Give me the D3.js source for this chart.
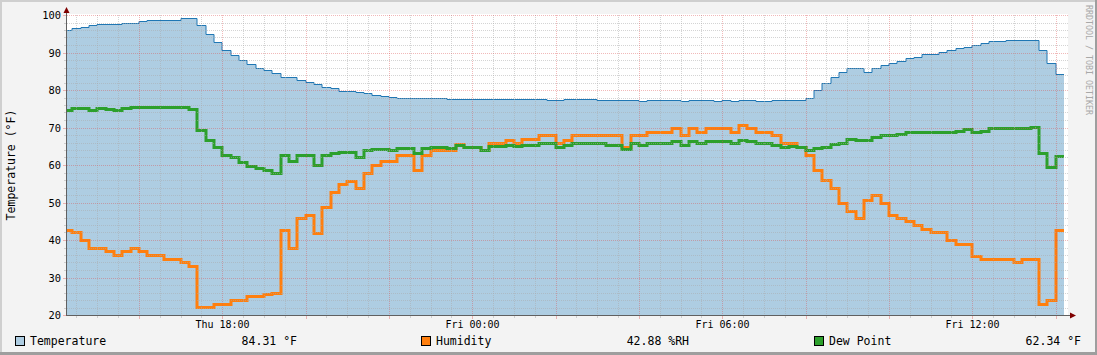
<!DOCTYPE html>
<html>
<head>
<meta charset="utf-8">
<script src="https://cdn.jsdelivr.net/npm/d3@7"></script>
<style>
  body { margin: 0; background: #f3f3f3; }
  svg { display: block; font-family: "DejaVu Sans Mono", monospace; }
</style>
</head>
<body>
<div id="chart"></div>
<script>
// 12 minute samples, first one starts Thu 14:12
var sampleStart = new Date(2024, 5, 13, 14, 12);
var stepMinutes = 12;
var viewStart = new Date(2024, 5, 13, 14, 16, 30);
var viewEnd = new Date(2024, 5, 14, 14, 16, 30);

var temperature = [
  96.0, 96.4, 96.7, 97.2, 97.5, 97.5, 97.5, 97.8, 98.0, 98.3,
  98.6, 98.6, 98.8, 98.8, 99.1, 99.1, 97.3, 94.9, 92.7, 90.8,
  89.3, 87.9, 86.9, 86.0, 85.2, 84.5, 83.6, 83.4, 82.6, 82.1,
  81.6, 80.7, 80.4, 79.8, 79.8, 79.5, 79.1, 78.8, 78.5, 78.2,
  78.0, 78.0, 78.0, 77.8, 77.8, 77.8, 77.6, 77.6, 77.6, 77.6,
  77.6, 77.6, 77.6, 77.6, 77.6, 77.6, 77.6, 77.6, 77.3, 77.3,
  77.5, 77.5, 77.5, 77.5, 77.3, 77.3, 77.3, 77.3, 77.3, 77.1,
  77.3, 77.3, 77.3, 77.3, 77.1, 77.3, 77.3, 77.3, 77.1, 77.3,
  77.1, 77.3, 77.3, 77.1, 77.1, 77.3, 77.3, 77.3, 77.3, 78.0,
  79.9, 81.9, 83.4, 84.7, 85.8, 85.8, 84.7, 86.0, 86.7, 87.3,
  87.8, 88.6, 88.9, 89.5, 89.5, 90.1, 90.8, 91.2, 91.6, 91.9,
  92.6, 93.1, 93.1, 93.4, 93.4, 93.4, 93.4, 90.8, 87.1, 84.3
];

var humidity = [
  42.8, 42.2, 40.0, 38.0, 37.8, 37.1, 36.0, 37.1, 37.8, 37.1,
  35.9, 35.9, 35.0, 35.0, 34.0, 33.1, 22.2, 22.2, 22.9, 22.9,
  23.9, 23.9, 25.0, 25.0, 25.7, 26.0, 42.8, 38.0, 45.8, 46.8,
  41.8, 48.9, 52.7, 54.9, 55.8, 53.8, 57.8, 60.0, 61.0, 61.0,
  62.8, 62.8, 58.8, 62.8, 63.9, 63.9, 63.9, 65.6, 64.9, 64.9,
  63.9, 65.8, 65.8, 66.8, 65.8, 66.9, 66.9, 67.9, 67.9, 65.8,
  66.8, 67.9, 67.9, 67.9, 67.9, 67.9, 67.9, 64.9, 67.9, 67.9,
  68.9, 68.9, 68.9, 69.8, 67.9, 69.8, 68.9, 69.8, 69.8, 70.0,
  68.9, 70.8, 70.0, 68.9, 68.9, 67.9, 66.0, 65.8, 64.9, 62.6,
  58.8, 55.9, 53.8, 49.8, 47.8, 45.8, 50.8, 51.9, 49.8, 46.8,
  46.0, 45.0, 43.9, 42.9, 42.1, 42.1, 40.0, 38.9, 38.9, 35.8,
  34.9, 34.9, 34.9, 34.9, 34.0, 34.9, 34.9, 22.9, 23.9, 42.8
];

var dewPoint = [
  74.8, 75.1, 75.1, 74.7, 75.1, 74.9, 74.7, 75.1, 75.4, 75.4,
  75.4, 75.4, 75.4, 75.4, 75.4, 74.9, 69.3, 66.7, 64.8, 62.8,
  62.1, 60.8, 59.7, 59.2, 58.7, 57.9, 62.8, 61.1, 62.8, 62.6,
  59.9, 62.6, 63.1, 63.4, 63.4, 62.0, 63.9, 64.3, 64.3, 64.1,
  64.6, 64.4, 63.1, 64.5, 64.8, 64.8, 64.6, 65.4, 64.8, 64.8,
  64.1, 65.1, 65.1, 65.2, 65.0, 65.2, 65.2, 65.8, 65.8, 64.9,
  65.2, 65.8, 65.8, 65.8, 65.8, 65.4, 65.4, 64.3, 65.8, 65.4,
  66.0, 66.0, 66.0, 66.4, 65.2, 66.4, 65.8, 66.4, 66.4, 66.4,
  65.8, 66.7, 66.4, 65.8, 65.8, 65.4, 64.8, 65.1, 64.9, 64.0,
  64.4, 64.8, 65.5, 65.8, 66.9, 66.7, 66.7, 67.6, 67.9, 67.9,
  68.3, 68.7, 68.7, 68.9, 68.7, 68.9, 68.7, 69.2, 69.5, 68.7,
  69.2, 69.8, 69.8, 69.8, 69.8, 69.8, 70.1, 63.1, 59.5, 62.4
];

var yTicks = [20, 30, 40, 50, 60, 70, 80, 90, 100];
var legendNames = ["Temperature", "Humidity", "Dew Point"];
var legendLast = ["84.31 \u00b0F", "42.88 %RH", "62.34 \u00b0F"];

// styles
var colors = ["#1f77b4", "#ff7f0e", "#2ca02c"];
var areaFill = "#aecde2";
var minorGrid = "rgba(170,170,170,0.5)";
var majorGrid = "rgba(220,80,80,0.4)";

var svgWidth = 1097;
var svgHeight = 355;
var plot = { left: 67, right: 1067, top: 15, bottom: 315 };

var svg = d3.select("#chart")
  .append("svg")
  .attr("width", svgWidth)
  .attr("height", svgHeight);

// background and frame
svg.append("rect").attr("width", svgWidth).attr("height", svgHeight).attr("fill", "#f3f3f3");
svg.append("rect").attr("x", 0).attr("y", 0).attr("width", svgWidth).attr("height", 2).attr("fill", "#cfcfcf");
svg.append("rect").attr("x", 0).attr("y", 0).attr("width", 2).attr("height", svgHeight).attr("fill", "#cfcfcf");
svg.append("rect").attr("x", 0).attr("y", svgHeight - 3).attr("width", svgWidth).attr("height", 3).attr("fill", "#9e9e9e");
svg.append("rect").attr("x", svgWidth - 2).attr("y", 0).attr("width", 2).attr("height", svgHeight).attr("fill", "#9e9e9e");

// canvas
svg.append("rect")
  .attr("x", plot.left).attr("y", plot.top - 1)
  .attr("width", plot.right - plot.left + 1).attr("height", plot.bottom - plot.top + 2)
  .attr("fill", "#ffffff");

var x = d3.scaleTime().domain([viewStart, viewEnd]).range([plot.left, plot.right]);
var y = d3.scaleLinear().domain([20, 100]).range([plot.bottom + 0.5, plot.top + 0.5]);

function px(v) { return Math.round(v); }
function py(v) { return Math.floor(v) + 0.5; }

function toPoints(values) {
  var pts = values.map(function(v, i) {
    return { t: d3.timeMinute.offset(sampleStart, i * stepMinutes), v: v };
  });
  pts.push({ t: d3.timeMinute.offset(sampleStart, values.length * stepMinutes), v: values[values.length - 1] });
  return pts;
}

svg.append("clipPath").attr("id", "plotClip")
  .append("rect")
  .attr("x", plot.left).attr("y", plot.top - 2)
  .attr("width", plot.right - plot.left).attr("height", plot.bottom - plot.top + 3);

var dataGroup = svg.append("g").attr("clip-path", "url(#plotClip)");

// temperature area
var tempPoints = toPoints(temperature);
dataGroup.append("path")
  .datum(tempPoints)
  .attr("fill", areaFill)
  .attr("d", d3.area()
    .curve(d3.curveStepAfter)
    .x(d => px(x(d.t)))
    .y0(y(20) + 0.5)
    .y1(d => py(y(d.v))));

// grid
var gridGroup = svg.append("g");
var minorTimes = d3.timeMinute.every(30).range(viewStart, viewEnd).filter(t => t.getMinutes() !== 0 || t.getHours() % 2 !== 0);
var majorTimes = d3.timeHour.every(2).range(viewStart, viewEnd);
var minorValues = d3.range(20, 101, 2).filter(v => v % 10 !== 0);

gridGroup.selectAll(".vminor").data(minorTimes).enter().append("line")
  .attr("x1", d => px(x(d)) + 0.5).attr("x2", d => px(x(d)) + 0.5)
  .attr("y1", plot.top).attr("y2", plot.bottom)
  .attr("stroke", minorGrid).attr("stroke-dasharray", "1,1");
gridGroup.selectAll(".hminor").data(minorValues).enter().append("line")
  .attr("x1", plot.left).attr("x2", plot.right + 1)
  .attr("y1", d => py(y(d))).attr("y2", d => py(y(d)))
  .attr("stroke", minorGrid).attr("stroke-dasharray", "1,1");
gridGroup.selectAll(".vmajor").data(majorTimes).enter().append("line")
  .attr("x1", d => px(x(d)) + 0.5).attr("x2", d => px(x(d)) + 0.5)
  .attr("y1", plot.top).attr("y2", plot.bottom)
  .attr("stroke", majorGrid).attr("stroke-dasharray", "1,1");
gridGroup.selectAll(".hmajor").data(yTicks).enter().append("line")
  .attr("x1", plot.left).attr("x2", plot.right + 1)
  .attr("y1", d => py(y(d))).attr("y2", d => py(y(d)))
  .attr("stroke", majorGrid).attr("stroke-dasharray", "1,1");

// tick marks outside the plot
gridGroup.selectAll(".tminor").data(minorTimes).enter().append("line")
  .attr("x1", d => px(x(d)) + 0.5).attr("x2", d => px(x(d)) + 0.5)
  .attr("y1", plot.bottom + 1).attr("y2", plot.bottom + 3)
  .attr("stroke", minorGrid);
gridGroup.selectAll(".tmajor").data(majorTimes).enter().append("line")
  .attr("x1", d => px(x(d)) + 0.5).attr("x2", d => px(x(d)) + 0.5)
  .attr("y1", plot.bottom + 1).attr("y2", plot.bottom + 4)
  .attr("stroke", majorGrid);
gridGroup.selectAll(".yminor").data(minorValues).enter().append("line")
  .attr("x1", plot.left - 3).attr("x2", plot.left - 1)
  .attr("y1", d => py(y(d))).attr("y2", d => py(y(d)))
  .attr("stroke", minorGrid);
gridGroup.selectAll(".ymajor").data(yTicks).enter().append("line")
  .attr("x1", plot.left - 4).attr("x2", plot.left - 1)
  .attr("y1", d => py(y(d))).attr("y2", d => py(y(d)))
  .attr("stroke", majorGrid);

// humidity and dew point lines, then temperature outline
var stepLine = d3.line()
  .curve(d3.curveStepAfter)
  .x(d => px(x(d.t)))
  .y(d => py(y(d.v)));

dataGroup.append("path")
  .datum(tempPoints)
  .attr("fill", "none")
  .attr("stroke", colors[0])
  .attr("stroke-width", 1)
  .attr("d", stepLine);

[humidity, dewPoint].forEach(function(values, i) {
  dataGroup.append("path")
    .datum(toPoints(values))
    .attr("fill", "none")
    .attr("stroke", colors[i + 1])
    .attr("stroke-width", 3)
    .attr("d", stepLine);
});

// axes with arrows
var axisColor = "#606060";
var arrowColor = "#7f0000";
svg.append("line")
  .attr("x1", plot.left - 0.5).attr("x2", plot.left - 0.5)
  .attr("y1", plot.bottom + 1).attr("y2", plot.top - 6)
  .attr("stroke", axisColor);
svg.append("line")
  .attr("x1", plot.left - 1).attr("x2", plot.right + 4)
  .attr("y1", plot.bottom + 0.5).attr("y2", plot.bottom + 0.5)
  .attr("stroke", axisColor);
svg.append("path")
  .attr("d", `M${plot.left - 3.5},${plot.top - 2} L${plot.left + 2.5},${plot.top - 2} L${plot.left - 0.5},${plot.top - 8} Z`)
  .attr("fill", arrowColor);
svg.append("path")
  .attr("d", `M${plot.right + 3},${plot.bottom - 2.5} L${plot.right + 3},${plot.bottom + 3.5} L${plot.right + 9},${plot.bottom + 0.5} Z`)
  .attr("fill", arrowColor);

// y tick labels
svg.selectAll(".ylabel").data(yTicks).enter().append("text")
  .attr("x", plot.left - 6)
  .attr("y", d => py(y(d)))
  .attr("dy", "0.36em")
  .attr("text-anchor", "end")
  .attr("font-size", "10.4px")
  .attr("fill", "#000")
  .text(d => d);

// x tick labels
var labelTimes = d3.timeHour.every(6).range(viewStart, viewEnd);
var fmt = d3.timeFormat("%a %H:%M");
svg.selectAll(".xlabel").data(labelTimes).enter().append("text")
  .attr("x", d => px(x(d)) + 0.5)
  .attr("y", 327.5)
  .attr("text-anchor", "middle")
  .attr("font-size", "10px")
  .attr("fill", "#000")
  .text(d => fmt(d));

// y axis title
svg.append("text")
  .attr("transform", `translate(14.5, ${(plot.top + plot.bottom) / 2}) rotate(-90)`)
  .attr("text-anchor", "middle")
  .attr("font-size", "11.5px")
  .attr("fill", "#000")
  .text("Temperature (\u00b0F)");

// watermark
svg.append("text")
  .attr("transform", "translate(1085.5, 5) rotate(90)")
  .attr("font-size", "8.3px")
  .attr("fill", "#a8a8a8")
  .text("RRDTOOL / TOBI OETIKER");

// legend
var legendBox = [15, 421, 814];
var legendValueEnd = [297, 689, 1081];
legendNames.forEach(function(name, i) {
  svg.append("rect")
    .attr("x", legendBox[i] + 0.5).attr("y", 336.5)
    .attr("width", 9).attr("height", 9)
    .attr("fill", i === 0 ? areaFill : colors[i])
    .attr("stroke", "#000");
  svg.append("text")
    .attr("x", legendBox[i] + 15).attr("y", 345)
    .attr("font-size", "11.5px")
    .attr("fill", "#000")
    .text(name);
  svg.append("text")
    .attr("x", legendValueEnd[i]).attr("y", 345)
    .attr("text-anchor", "end")
    .attr("font-size", "11.5px")
    .attr("fill", "#000")
    .text(legendLast[i]);
});
</script>
</body>
</html>
